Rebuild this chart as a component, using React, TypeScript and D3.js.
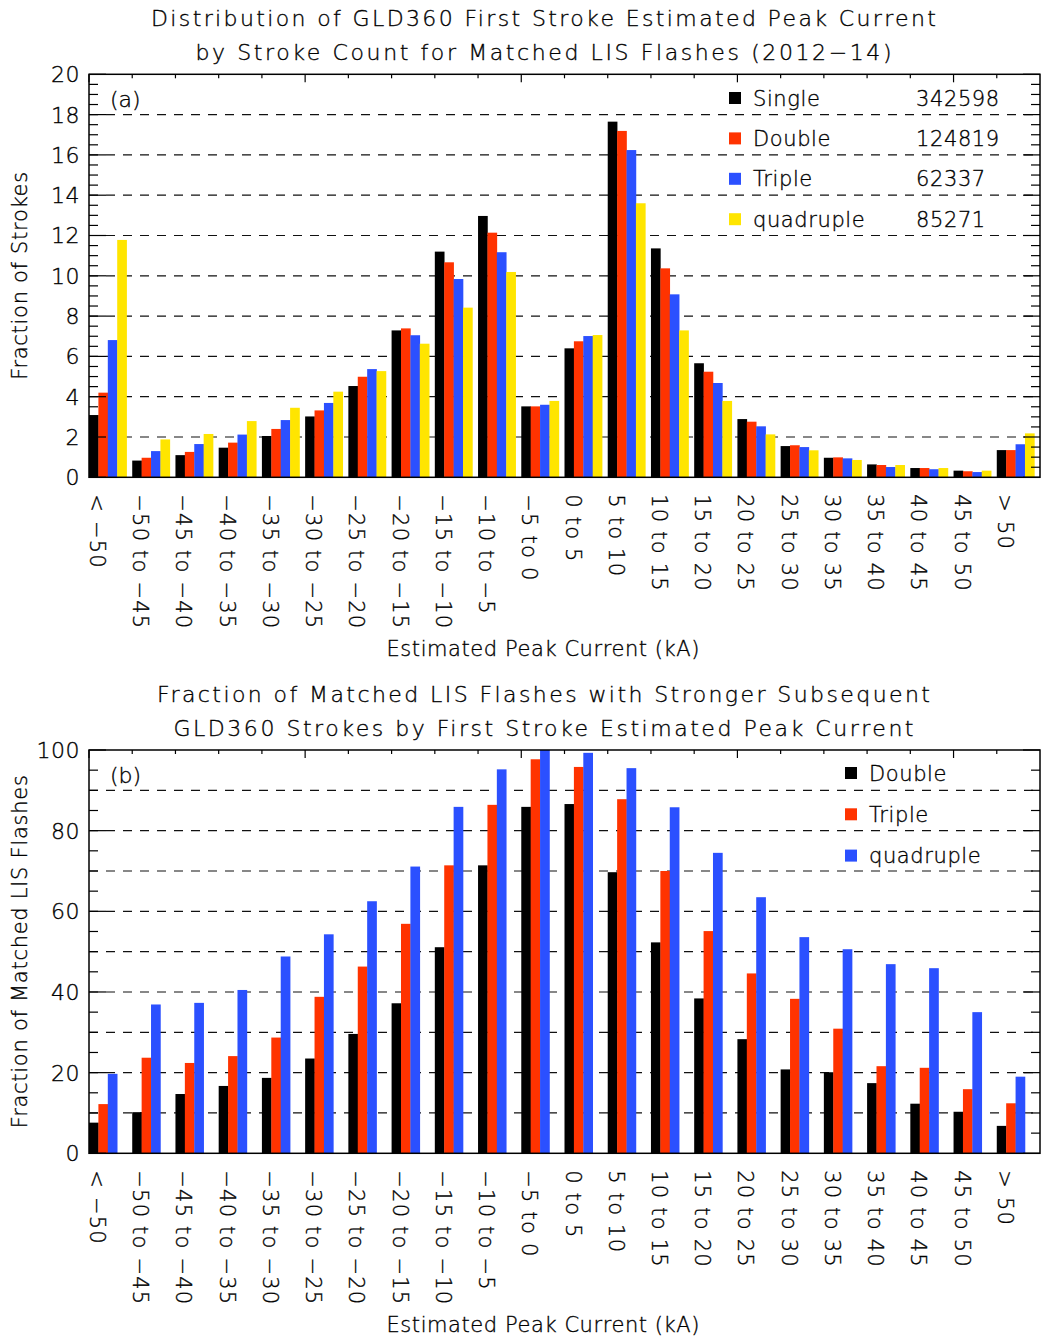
import * as d3 from 'd3';

const categories = [
  '< −50', '−50 to −45', '−45 to −40', '−40 to −35', '−35 to −30', '−30 to −25',
  '−25 to −20', '−20 to −15', '−15 to −10', '−10 to −5', '−5 to 0', '0 to 5',
  '5 to 10', '10 to 15', '15 to 20', '20 to 25', '25 to 30', '30 to 35',
  '35 to 40', '40 to 45', '45 to 50', '> 50',
];

// panel (a): fraction of strokes (%)
const singleA = [3.09, 0.83, 1.1, 1.47, 2.05, 3.02, 4.53, 7.29, 11.2, 12.97, 3.52, 6.4, 17.65, 11.36, 5.66, 2.89, 1.55, 0.97, 0.64, 0.46, 0.33, 1.35];
const doubleA = [4.2, 0.97, 1.26, 1.72, 2.4, 3.32, 4.99, 7.39, 10.67, 12.14, 3.52, 6.75, 17.19, 10.37, 5.24, 2.76, 1.59, 0.99, 0.61, 0.46, 0.3, 1.35];
const tripleA = [6.81, 1.3, 1.65, 2.12, 2.84, 3.69, 5.37, 7.05, 9.84, 11.17, 3.6, 7.01, 16.24, 9.08, 4.68, 2.53, 1.5, 0.94, 0.51, 0.4, 0.26, 1.64];
const quadA = [11.78, 1.88, 2.15, 2.79, 3.45, 4.25, 5.27, 6.63, 8.42, 10.19, 3.79, 7.06, 13.6, 7.29, 3.79, 2.13, 1.34, 0.86, 0.61, 0.46, 0.33, 2.18];
const seriesA = ['Single', 'Double', 'Triple', 'quadruple'];
const countsA = ['342598', '124819', '62337', '85271'];

// panel (b): fraction of matched flashes with stronger subsequent strokes (%)
const doubleB = [7.6, 10.2, 14.7, 16.7, 18.7, 23.5, 29.6, 37.2, 51.1, 71.4, 85.9, 86.6, 69.7, 52.3, 38.4, 28.3, 20.8, 20.1, 17.4, 12.3, 10.3, 6.8];
const tripleB = [12.2, 23.7, 22.4, 24.1, 28.7, 38.8, 46.3, 56.9, 71.4, 86.4, 97.7, 95.8, 87.8, 70.0, 55.1, 44.6, 38.3, 30.9, 21.6, 21.2, 15.9, 12.4];
const quadB = [19.7, 36.9, 37.3, 40.5, 48.8, 54.3, 62.5, 71.1, 85.9, 95.2, 100, 99.3, 95.5, 85.8, 74.5, 63.5, 53.6, 50.6, 46.9, 45.9, 35.0, 19.0];
const seriesB = ['Double', 'Triple', 'quadruple'];

const BLACK = '#000000';
const RED = '#ff3300';
const BLUE = '#2b50ff';
const YELLOW = '#ffe500';

const LEFT = 89;
const RIGHT = 1040;
const BAR_W = 9.4;

// thin, Hershey-like lettering
const txt = {
  fontFamily: 'DejaVu Sans',
  fontWeight: 200,
  fill: '#000',
  stroke: '#000',
  strokeWidth: 0.35,
};

type PanelProps = {
  top: number;
  bottom: number;
  yMax: number;
  majorStep: number;
  minorStep: number;
  gridStep: number;
  series: number[][];
  colors: string[];
  titles: string[];
  titleLens: number[];
  yTitle: string;
  yTitleLen: number;
  tag: string;
  legend: JSX.Element;
};

function Panel(p: PanelProps) {
  const x = d3.scaleBand<string>().domain(categories).range([LEFT, RIGHT]).paddingInner(0).paddingOuter(0);
  const keys = p.series.map((_, i) => String(i));
  const x1 = d3.scaleBand<string>().domain(keys).range([0, BAR_W * keys.length]).padding(0);
  const y = d3.scaleLinear().domain([0, p.yMax]).range([p.bottom, p.top]);

  const bars = [];
  for (let s = 0; s < p.series.length; s++) {
    for (let i = 0; i < categories.length; i++) {
      const v = p.series[s][i];
      const bx = (x(categories[i]) as number) + (x1(String(s)) as number);
      bars.push(
        <rect
          key={`b${s}_${i}`}
          x={bx}
          y={y(v)}
          width={x1.bandwidth() + 0.3}
          height={p.bottom - y(v)}
          fill={p.colors[s]}
        />
      );
    }
  }

  const grid = d3.range(p.gridStep, p.yMax, p.gridStep).map((v) => (
    <line key={`g${v}`} x1={LEFT} x2={RIGHT} y1={y(v)} y2={y(v)} stroke='#111' strokeWidth={1.2} strokeDasharray='9 8' />
  ));

  const yTicks = [];
  const minorTicks = d3.range(0, p.yMax + 0.001, p.minorStep);
  for (const v of minorTicks) {
    const isMajor = Math.abs(v / p.majorStep - Math.round(v / p.majorStep)) < 1e-6;
    const len = isMajor ? 17 : 9;
    yTicks.push(<line key={`yl${v}`} x1={LEFT} x2={LEFT + len} y1={y(v)} y2={y(v)} stroke='#000' strokeWidth={1.2} />);
    yTicks.push(<line key={`yr${v}`} x1={RIGHT} x2={RIGHT - len} y1={y(v)} y2={y(v)} stroke='#000' strokeWidth={1.2} />);
  }
  const yLabels = d3.range(0, p.yMax + 0.001, p.majorStep).map((v) => (
    <text key={`yt${v}`} style={txt} x={80} y={y(v)} dy='0.36em' textAnchor='end' fontSize={22} letterSpacing={0.5}>
      {v}
    </text>
  ));

  const topTicks = categories.map((c, i) => {
    const tx = x(c) as number;
    const len = i % 5 === 0 ? 8 : 4;
    return <line key={`tt${i}`} x1={tx} x2={tx} y1={p.top} y2={p.top + len} stroke='#000' strokeWidth={1.2} />;
  });

  const xLabels = categories.map((c, i) => {
    const tx = (x(c) as number) + 1;
    return (
      <text key={`xl${i}`} style={txt} transform={`translate(${tx},${p.bottom + 17}) rotate(90)`} fontSize={21} letterSpacing={1.2}>
        {c}
      </text>
    );
  });

  return (
    <g>
      {p.titles.map((t, i) => (
        <text key={`t${i}`} style={txt} x={(LEFT + RIGHT) / 2 - 21} y={p.top - 48 + i * 34} textAnchor='middle' fontSize={22}
          textLength={p.titleLens[i]} lengthAdjust='spacing'>
          {t}
        </text>
      ))}
      {grid}
      {bars}
      {yTicks}
      {topTicks}
      <rect x={LEFT} y={p.top} width={RIGHT - LEFT} height={p.bottom - p.top} fill='none' stroke='#000' strokeWidth={1.5} />
      {yLabels}
      {xLabels}
      <text style={txt} x={110} y={p.top + 33} fontSize={22}>{p.tag}</text>
      <text style={txt} transform={`translate(27,${(p.top + p.bottom) / 2}) rotate(-90)`} textAnchor='middle' fontSize={21}
        textLength={p.yTitleLen} lengthAdjust='spacing'>
        {p.yTitle}
      </text>
      <text style={txt} x={543} y={p.bottom + 179} textAnchor='middle' fontSize={21} textLength={313} lengthAdjust='spacing'>
        Estimated Peak Current (kA)
      </text>
      {p.legend}
    </g>
  );
}

export default function App() {
  const colorsA = [BLACK, RED, BLUE, YELLOW];
  const colorsB = [BLACK, RED, BLUE];

  const legendA = (
    <g>
      {seriesA.map((s, i) => {
        const cy = 98 + i * 40.4;
        return (
          <g key={s}>
            <rect x={729} y={cy - 6} width={12} height={12} fill={colorsA[i]} />
            <text style={txt} x={753} y={cy} dy='0.36em' fontSize={21} letterSpacing={0.6}>{s}</text>
            <text style={txt} x={916} y={cy} dy='0.36em' fontSize={21} letterSpacing={0.6}>{countsA[i]}</text>
          </g>
        );
      })}
    </g>
  );

  const legendB = (
    <g>
      {seriesB.map((s, i) => {
        const cy = 773 + i * 41.3;
        return (
          <g key={s}>
            <rect x={845} y={cy - 6} width={12} height={12} fill={colorsB[i]} />
            <text style={txt} x={869} y={cy} dy='0.36em' fontSize={21} letterSpacing={0.6}>{s}</text>
          </g>
        );
      })}
    </g>
  );

  return (
    <svg width={1060} height={1336} style={{ position: 'absolute', left: 0, top: 0, background: '#fff' }}>
      <rect width={1060} height={1336} fill='#fff' />
      <Panel
        top={74.3}
        bottom={477.3}
        yMax={20}
        majorStep={2}
        minorStep={0.5}
        gridStep={2}
        series={[singleA, doubleA, tripleA, quadA]}
        colors={colorsA}
        titles={[
          'Distribution of GLD360 First Stroke Estimated Peak Current',
          'by Stroke Count for Matched LIS Flashes (2012−14)',
        ]}
        titleLens={[785, 696]}
        yTitle='Fraction of Strokes'
        yTitleLen={208}
        tag='(a)'
        legend={legendA}
      />
      <Panel
        top={750}
        bottom={1153.3}
        yMax={100}
        majorStep={20}
        minorStep={5}
        gridStep={10}
        series={[doubleB, tripleB, quadB]}
        colors={colorsB}
        titles={[
          'Fraction of Matched LIS Flashes with Stronger Subsequent',
          'GLD360 Strokes by First Stroke Estimated Peak Current',
        ]}
        titleLens={[773, 740]}
        yTitle='Fraction of Matched LIS Flashes'
        yTitleLen={353}
        tag='(b)'
        legend={legendB}
      />
    </svg>
  );
}
